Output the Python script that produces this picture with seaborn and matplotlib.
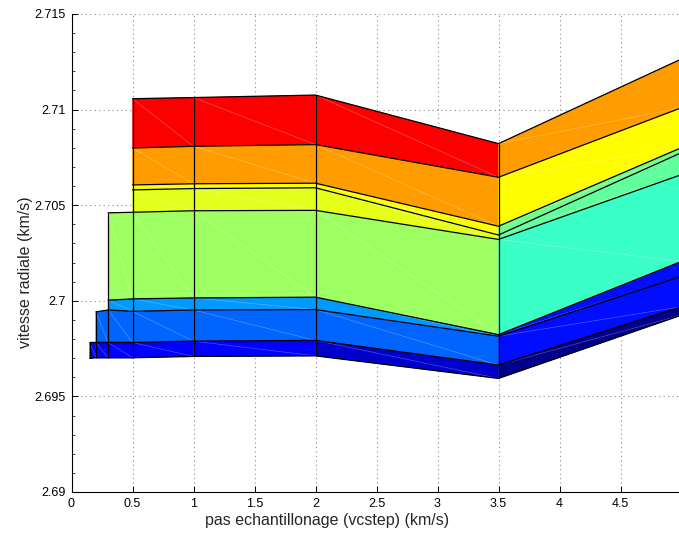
import numpy as np
import matplotlib
matplotlib.use("Agg")
import matplotlib.pyplot as plt
from matplotlib.colors import LinearSegmentedColormap
from matplotlib.ticker import MultipleLocator, FuncFormatter
import seaborn as sns

nan = np.nan

# sampling step (km/s): mesh columns
vcstep = [0.15, 0.2, 0.3, 0.5, 1.0, 2.0, 3.5, 5.0]

# radial velocity (km/s) along each mesh row, NaN where the row has no sample
row_0 = [nan, nan, nan, 2.71057, 2.71063, 2.71076, 2.70822, 2.71265]
row_1 = [nan, nan, nan, 2.70799, 2.70808, 2.70817, 2.70646, 2.71010]
row_2 = [nan, nan, nan, 2.70606, 2.70612, 2.70615, 2.70390, 2.70801]
row_3 = [nan, nan, nan, 2.70580, 2.70587, 2.70591, 2.70344, 2.70775]
row_4 = [nan, nan, 2.70460, 2.70463, 2.70471, 2.70473, 2.70321, 2.70660]
row_5 = [nan, nan, 2.70003, 2.70010, 2.70015, 2.70019, 2.69823, 2.70206]
row_6 = [nan, 2.69942, 2.69952, 2.69945, 2.69952, 2.69954, 2.69815, 2.70128]
row_7 = [2.69782, 2.69782, 2.69782, 2.69782, 2.69789, 2.69793, 2.69664, 2.69969]
row_8 = [2.69699, 2.69702, 2.69702, 2.69702, 2.69709, 2.69712, 2.69594, 2.69925]

# colour value of each face (band between two rows x column interval), 0..1 on jet
face_c0 = [nan, nan, nan, 0.875, 0.875, 0.875, 0.72]
face_c1 = [nan, nan, nan, 0.72, 0.72, 0.72, 0.625]
face_c2 = [nan, nan, nan, 0.62, 0.62, 0.62, 0.485]
face_c3 = [nan, nan, nan, 0.595, 0.595, 0.60, 0.47]
face_c4 = [nan, nan, 0.53, 0.53, 0.53, 0.53, 0.43]
face_c5 = [nan, nan, 0.275, 0.275, 0.275, 0.275, 0.14]
face_c6 = [nan, 0.225, 0.225, 0.225, 0.225, 0.225, 0.14]
face_c7 = [0.125, 0.125, 0.125, 0.125, 0.125, 0.075, 0.0125]

x_ticks = [0, 0.5, 1, 1.5, 2, 2.5, 3, 3.5, 4, 4.5, 5]
y_ticks = [2.69, 2.695, 2.70, 2.705, 2.71, 2.715]

sns.set_style("ticks")
plt.rcParams["font.family"] = ["Liberation Sans", "DejaVu Sans"]

# classic MATLAB-style jet
jet = LinearSegmentedColormap("jet_classic", {
    "red":   [(0, 0, 0), (0.375, 0, 0), (0.625, 1, 1), (0.875, 1, 1), (1, 0.5, 0.5)],
    "green": [(0, 0, 0), (0.125, 0, 0), (0.375, 1, 1), (0.625, 1, 1), (0.875, 0, 0), (1, 0, 0)],
    "blue":  [(0, 0.5, 0.5), (0.125, 1, 1), (0.375, 1, 1), (0.625, 0, 0), (1, 0, 0)],
})

rows = np.array([row_0, row_1, row_2, row_3, row_4, row_5, row_6, row_7, row_8])
faces = np.array([face_c0, face_c1, face_c2, face_c3, face_c4, face_c5, face_c6, face_c7])
X = np.array(vcstep)

fig = plt.figure(figsize=(6.79, 5.38), dpi=100)
ax = fig.add_axes([71.5 / 679, 46 / 538, 610 / 679, 478 / 538])

# filled faces of the mesh
for i in range(len(rows) - 1):
    for j in range(len(X) - 1):
        ys = [rows[i, j], rows[i, j + 1], rows[i + 1, j + 1], rows[i + 1, j]]
        if np.any(np.isnan(ys)):
            continue
        xs = [X[j], X[j + 1], X[j + 1], X[j]]
        col = jet(faces[i, j])
        ax.fill(xs, ys, facecolor=col, edgecolor=col, lw=0.3, zorder=2)
        # faint triangulation seam across each face
        ax.plot([X[j], X[j + 1]], [rows[i, j], rows[i + 1, j + 1]],
                color="white", alpha=0.3, lw=0.5, zorder=2.5)

# mesh edges along rows
for r in rows:
    sns.lineplot(x=X, y=r, color="black", lw=0.9, estimator=None, sort=False,
                 ax=ax, zorder=3)

# mesh edges along columns
for j, x in enumerate(X):
    col = rows[:, j]
    col = col[~np.isnan(col)]
    ax.vlines(x, col.min(), col.max(), color="black", lw=0.9, zorder=3)

ax.set_xlim(0, 5)
ax.set_ylim(2.69, 2.715)
ax.set_xticks(x_ticks)
ax.set_yticks(y_ticks)
fmt = FuncFormatter(lambda v, p: f"{v:g}")
ax.xaxis.set_major_formatter(fmt)
ax.yaxis.set_major_formatter(fmt)
ax.yaxis.set_minor_locator(MultipleLocator(0.001))
ax.tick_params(which="major", direction="in", length=4.5, width=0.7,
               labelsize=9, colors="black", pad=4)
ax.tick_params(which="minor", axis="y", direction="in", length=2.2, width=0.6)

ax.grid(True, which="major", linestyle=(0, (1, 3)), color="#8a8a8a", lw=0.8)
ax.set_axisbelow(True)
sns.despine(ax=ax)
for s in ("left", "bottom"):
    ax.spines[s].set_linewidth(0.8)
    ax.spines[s].set_color("black")

ax.set_xlabel("pas echantillonage (vcstep) (km/s)", fontsize=11.5)
ax.set_ylabel("vitesse radiale (km/s)", fontsize=11.5)
ax.xaxis.set_label_coords(0.4195, -0.043)
ax.yaxis.set_label_coords(-0.063, 0.46)

fig.savefig("out.png", dpi=100)
